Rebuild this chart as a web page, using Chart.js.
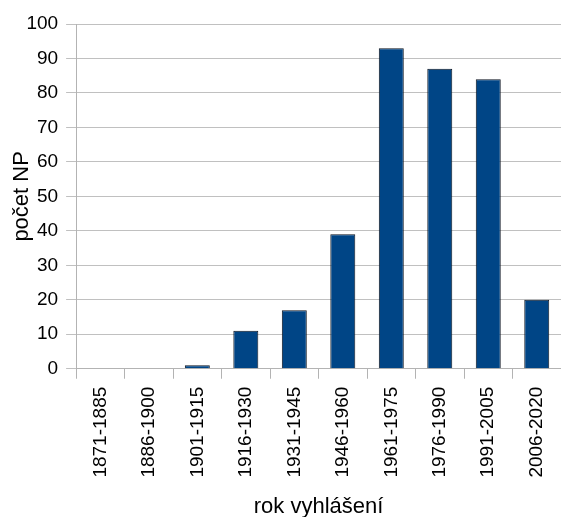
<!DOCTYPE html>
<html>
<head>
<meta charset="utf-8">
<script src="https://cdn.jsdelivr.net/npm/chart.js@4"></script>
<style>
  html, body { margin: 0; padding: 0; background: #fff; overflow: hidden; }
  #wrap { width: 561px; height: 517px; }
</style>
</head>
<body>
<div id="wrap"><canvas id="chart"></canvas></div>
<script>
// data
const obdobi = ["1871-1885", "1886-1900", "1901-1915", "1916-1930", "1931-1945",
                "1946-1960", "1961-1975", "1976-1990", "1991-2005", "2006-2020"];
const pocetNP = [0, 0, 1, 11, 17, 39, 93, 87, 84, 20];
const yTicks = [0, 10, 20, 30, 40, 50, 60, 70, 80, 90, 100];

const font = "'Liberation Sans', Arial, sans-serif";

const ctx = document.getElementById("chart").getContext("2d");
new Chart(ctx, {
  type: "bar",
  data: {
    labels: obdobi,
    datasets: [{
      label: "počet NP",
      data: pocetNP,
      backgroundColor: "#004586",
      borderColor: "#0d1520",
      borderWidth: 1,
      categoryPercentage: 1,
      barPercentage: 0.515
    }]
  },
  options: {
    responsive: true,
    maintainAspectRatio: false,
    animation: false,
    layout: { autoPadding: false, padding: { top: 24, right: 0, left: 0, bottom: 0 } },
    plugins: {
      legend: { display: false },
      tooltip: { enabled: false }
    },
    scales: {
      x: {
        afterFit: s => { s.paddingLeft = 0; s.paddingRight = 0; },
        grid: {
          offset: true,
          drawOnChartArea: false,
          color: "#b3b3b3",
          tickLength: 10
        },
        border: { color: "#b3b3b3" },
        ticks: {
          color: "#000",
          font: { family: font, size: 19 },
          maxRotation: 90,
          minRotation: 90,
          padding: 8
        },
        title: {
          display: true,
          text: "rok vyhlášení",
          color: "#000",
          font: { family: font, size: 22 },
          padding: { top: 8, bottom: -3 }
        }
      },
      y: {
        min: 0,
        max: 100,
        afterBuildTicks: axis => { axis.ticks = yTicks.map(v => ({ value: v })); },
        grid: { color: "#c0c0c0", tickLength: 10 },
        border: { color: "#b3b3b3" },
        ticks: {
          color: "#000",
          font: { family: font, size: 19 },
          padding: 8
        },
        title: {
          display: true,
          text: "počet NP",
          color: "#000",
          font: { family: font, size: 22 },
          padding: { top: 9, bottom: -17 }
        }
      }
    }
  }
});
</script>
</body>
</html>
